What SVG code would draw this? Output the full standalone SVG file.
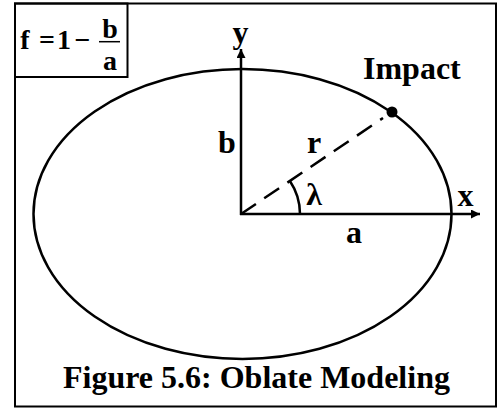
<svg xmlns="http://www.w3.org/2000/svg" width="501" height="409" viewBox="0 0 501 409">
<style>
text{font-family:"Liberation Serif","Times New Roman",serif;font-weight:bold;fill:#000}
.lbl{font-size:32px}
.fm{font-size:28px}
.ln{stroke:#000;stroke-width:2.5;fill:none}
.bx{stroke:#000;stroke-width:2;fill:none}
</style>
<defs>
<marker id="ah" viewBox="0 0 10 10" refX="10" refY="5" markerWidth="11" markerHeight="9" markerUnits="userSpaceOnUse" orient="auto">
<path d="M0,0 L10,5 L0,10 Z" fill="#000"/>
</marker>
</defs>
<rect x="0" y="0" width="501" height="409" fill="#fff"/>
<rect id="frame" x="15" y="3.5" width="481" height="403" class="bx"/>
<g id="formula">
<rect x="15" y="3.5" width="112.5" height="73.5" class="bx"/>
<text class="fm" x="25" y="49" text-anchor="middle">f</text>
<text class="fm" x="47" y="49" text-anchor="middle">=</text>
<text class="fm" x="64" y="49" text-anchor="middle">1</text>
<text class="fm" x="82.5" y="49" text-anchor="middle">−</text>
<line x1="99" y1="41.7" x2="120" y2="41.7" stroke="#000" stroke-width="1.5"/>
<text class="fm" x="110" y="38" text-anchor="middle">b</text>
<text class="fm" x="110" y="70" text-anchor="middle">a</text>
</g>
<g id="ellipse">
<ellipse cx="242.5" cy="214" rx="209" ry="145" fill="none" stroke="#000" stroke-width="2.5"/>
</g>
<g id="connectors">
<line x1="241" y1="215" x2="241" y2="49" class="ln" marker-end="url(#ah)"/>
<line x1="240" y1="214" x2="480" y2="214" class="ln" marker-end="url(#ah)"/>
<line x1="241" y1="214" x2="383" y2="118" class="ln" stroke-dasharray="18,10"/>
<path d="M300,214 A59,59 0 0 0 289.9,181" class="ln"/>
</g>
<g id="impact">
<circle cx="392" cy="112" r="5.5" fill="#000"/>
<text class="lbl" x="363" y="79">Impact</text>
</g>
<g id="labels">
<text class="lbl" x="240.5" y="43" text-anchor="middle">y</text>
<text class="lbl" x="465.5" y="206" text-anchor="middle">x</text>
<text class="lbl" x="227" y="153" text-anchor="middle">b</text>
<text class="lbl" x="314" y="153" text-anchor="middle">r</text>
<text class="lbl" x="314" y="205" text-anchor="middle">λ</text>
<text class="lbl" x="354" y="243" text-anchor="middle">a</text>
<text class="lbl" x="63" y="388">Figure 5.6: Oblate Modeling</text>
</g>
</svg>
